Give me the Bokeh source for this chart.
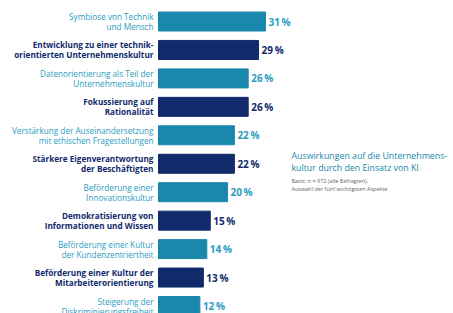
from bokeh.plotting import figure
from bokeh.models import Range1d, ColumnDataSource
from bokeh.core.properties import value
from bokeh.embed import file_html
from bokeh.resources import INLINE

categories = [
    "Symbiose von Technik\nund Mensch",
    "Entwicklung zu einer technik-\norientierten Unternehmenskultur",
    "Datenorientierung als Teil der\nUnternehmenskultur",
    "Fokussierung auf\nRationalität",
    "Verstärkung der Auseinandersetzung\nmit ethischen Fragestellungen",
    "Stärkere Eigenverantwortung\nder Beschäftigten",
    "Beförderung einer\nInnovationskultur",
    "Demokratisierung von\nInformationen und Wissen",
    "Beförderung einer Kultur\nder Kundenzentriertheit",
    "Beförderung einer Kultur der\nMitarbeiterorientierung",
    "Steigerung der\nDiskriminierungsfreiheit",
]
values = [31, 29, 26, 26, 22, 22, 20, 15, 14, 13, 12]
title_lines = ["Auswirkungen auf die Unternehmens-", "kultur durch den Einsatz von KI"]
note_lines = ["Basis: n = 972 (alle Befragten),", "Auswahl der fünf wichtigsten Aspekte"]

TEAL = "#1a88ad"
NAVY = "#102a6b"
TEAL_TXT = "#2a9cc2"

W, H = 453, 313
PX_X = 3.45      # px per percent
X0 = 158         # bar start in figure px
PX_Y = 28.45     # px per row
Y0 = 21          # first row center in figure px

p = figure(width=W, height=H, output_backend="svg", toolbar_location=None,
           x_range=Range1d(-X0 / PX_X, (W - X0) / PX_X),
           y_range=Range1d((H - Y0) / PX_Y, -Y0 / PX_Y),
           min_border=0, outline_line_color=None)
p.axis.visible = False
p.grid.visible = False
p.background_fill_color = "white"
p.border_fill_color = "white"

n = len(values)
idx = list(range(n))
colors = [TEAL if i % 2 == 0 else NAVY for i in idx]
txt_colors = [TEAL_TXT if i % 2 == 0 else NAVY for i in idx]
weights = ["normal" if i % 2 == 0 else "bold" for i in idx]
l1 = [c.split("\n")[0] for c in categories]
l2 = [c.split("\n")[1] for c in categories]
pct = [f"{v}\u2009%" for v in values]

src = ColumnDataSource(dict(y=idx, v=values, c=colors, tc=txt_colors, w=weights,
                            l1=l1, l2=l2, pct=pct, zero=[0] * n,
                            lx=[-5 / PX_X] * n))

p.hbar(y="y", left="zero", right="v", height=19 / PX_Y, color="c", source=src)

for col, off in (("l1", -5), ("l2", 5)):
    p.text(x="lx", y="y", text=col, source=src, text_align="right",
           text_baseline="middle", text_font=value("Open Sans"),
           text_font_size="8.2px", text_color="tc", text_font_style="w",
           y_offset=off)

p.text(x="v", y="y", text="pct", source=src, x_offset=3, text_align="left",
       text_baseline="middle", text_font=value("Open Sans"),
       text_font_size="10px", text_font_style="bold", text_color="tc")

def dy(screen_y):
    return (screen_y - Y0) / PX_Y

tx = (291 - X0) / PX_X
p.text(x=[tx, tx], y=[dy(155), dy(167)], text=title_lines,
       text_font=value("Open Sans"), text_font_size="8.8px",
       text_color=TEAL, text_baseline="middle", text_align="left")
p.text(x=[tx, tx], y=[dy(180), dy(188)], text=note_lines,
       text_font=value("Open Sans"), text_font_size="5.5px",
       text_color="#666666", text_baseline="middle", text_align="left")

open("out.html", "w").write(file_html(p, INLINE))
